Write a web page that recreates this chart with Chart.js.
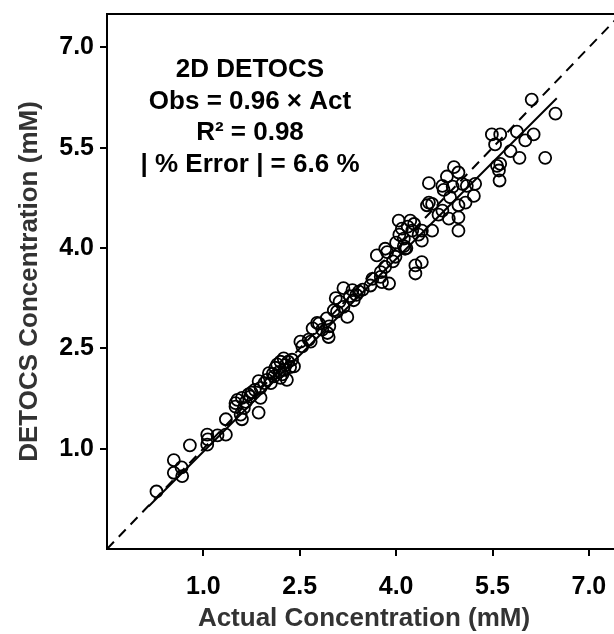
<!DOCTYPE html>
<html>
<head>
<meta charset="utf-8">
<script src="https://cdn.jsdelivr.net/npm/chart.js@4"></script>
<style>
    html, body { margin: 0; padding: 0; background: #fff; overflow: hidden; }
    canvas { display: block; }
</style>
</head>
<body>
<canvas id="myChart" width="630" height="634"></canvas>
<script>
// Actual vs DETOCS-measured concentration (mM)
const actualConc = [
    0.27, 0.54, 0.54, 0.66, 0.67, 0.79, 1.06, 1.07, 1.06, 1.22,
    1.35, 1.35, 1.50, 1.60, 1.63, 1.60, 1.70, 1.86, 1.53, 1.73,
    1.89, 1.50, 1.58, 1.86, 1.89, 1.99, 1.66, 1.75, 2.10, 2.20,
    2.30, 2.12, 2.25, 2.28, 2.41, 2.02, 2.23, 2.18, 2.26, 2.32,
    2.08, 2.35, 2.51, 2.67, 2.54, 2.64, 2.77, 2.93, 2.80, 2.95,
    2.96, 2.92, 3.03, 3.08, 3.06, 3.18, 3.24, 3.18, 3.32, 3.42,
    3.34, 3.38, 3.60, 3.63, 3.76, 3.78, 3.89, 3.83, 3.70, 3.83,
    3.86, 3.99, 3.76, 3.95, 4.04, 4.22, 4.09, 4.25, 4.40, 4.40,
    4.12, 4.14, 4.30, 4.40, 4.30, 4.48, 4.56, 4.51, 4.72, 4.74,
    4.79, 4.90, 4.97, 5.03, 5.10, 5.21, 4.84, 4.51, 4.56, 5.08,
    4.72, 4.97, 4.82, 4.97, 4.97, 4.66, 4.12, 4.35, 4.00, 5.54,
    5.49, 5.62, 5.57, 5.60, 5.61, 5.23, 5.88, 6.14, 6.01, 5.78,
    5.92, 6.32, 6.11, 6.48, 5.62, 2.15, 2.20, 2.38, 2.05, 1.80,
    1.95, 2.70, 2.85, 3.12, 3.28, 3.48, 4.05, 4.18, 4.28, 4.16,
    4.88
];
const detocsConc = [
    0.36, 0.83, 0.64, 0.72, 0.59, 1.05, 1.21, 1.14, 1.06, 1.20,
    1.21, 1.44, 1.68, 1.76, 1.61, 1.44, 1.81, 1.54, 1.73, 1.78,
    1.76, 1.63, 1.51, 2.01, 1.91, 2.03, 1.70, 1.84, 2.08, 2.06,
    2.03, 2.21, 2.35, 2.25, 2.23, 2.13, 2.11, 2.15, 2.18, 2.30,
    2.12, 2.22, 2.60, 2.60, 2.53, 2.63, 2.88, 2.73, 2.87, 2.67,
    2.83, 2.95, 3.07, 3.05, 3.25, 3.12, 2.97, 3.40, 3.37, 3.35,
    3.22, 3.30, 3.44, 3.54, 3.64, 3.49, 3.47, 3.72, 3.89, 3.99,
    3.94, 3.87, 3.57, 3.80, 4.41, 4.41, 4.29, 4.26, 4.26, 4.11,
    4.14, 3.99, 3.74, 3.79, 3.62, 4.64, 4.26, 4.97, 4.93, 4.87,
    5.07, 5.21, 5.13, 4.96, 4.93, 4.78, 4.76, 4.68, 4.66, 4.68,
    4.56, 4.64, 4.44, 4.46, 4.26, 4.50, 4.03, 4.20, 4.08, 5.55,
    5.70, 5.70, 5.23, 5.16, 5.01, 4.96, 5.74, 5.70, 5.61, 5.45,
    5.35, 5.35, 6.22, 6.01, 5.26, 2.26, 2.30, 2.33, 1.98, 1.88,
    1.98, 2.80, 2.78, 3.20, 3.28, 3.38, 4.20, 4.32, 4.36, 4.00,
    4.92
];

const tickValues = [1.0, 2.5, 4.0, 5.5, 7.0];
const axisMin = -0.5;
const axisMax = 7.5;

// y = x reference and fitted line (Obs = 0.96 x Act)
const identityX = [-0.5, 7.5];
const identityY = [-0.5, 7.5];
const fitX = [0.15, 6.5];
const fitY = [0.14, 6.24];

const statsLines = ['2D DETOCS', 'Obs = 0.96 × Act', 'R² = 0.98', '| % Error | = 6.6 %'];

const FONT = "'Liberation Sans', Arial, sans-serif";

document.addEventListener('DOMContentLoaded', function () {
    const points = actualConc.map((x, i) => ({ x: x, y: detocsConc[i] }));
    const identity = identityX.map((x, i) => ({ x: x, y: identityY[i] }));
    const fit = fitX.map((x, i) => ({ x: x, y: fitY[i] }));

    // frame + stats text
    const framePlugin = {
        id: 'frame',
        afterDraw(chart) {
            const c = chart.ctx;
            const a = chart.chartArea;
            c.save();
            c.strokeStyle = '#000';
            c.lineWidth = 2;
            c.strokeRect(a.left, a.top, a.right - a.left, a.bottom - a.top);

            c.fillStyle = '#000';
            c.font = 'bold 26px ' + FONT;
            c.textAlign = 'center';
            c.textBaseline = 'middle';
            const cx = 250;
            statsLines.forEach((t, i) => {
                c.fillText(t, cx, 70 + i * 31.5);
            });
            c.restore();
        }
    };

    var ctx = document.getElementById('myChart').getContext('2d');
    var myChart = new Chart(ctx, {
        type: 'scatter',
        data: {
            datasets: [{
                label: 'Samples',
                data: points,
                pointStyle: 'circle',
                pointRadius: 6,
                pointBorderWidth: 1.8,
                borderColor: '#000',
                backgroundColor: 'rgba(0,0,0,0)'
            }, {
                label: 'Identity',
                data: identity,
                showLine: true,
                borderColor: '#000',
                borderWidth: 2,
                borderDash: [10, 7],
                pointRadius: 0
            }, {
                label: 'Fit',
                data: fit,
                showLine: true,
                borderColor: '#000',
                borderWidth: 2,
                pointRadius: 0
            }]
        },
        options: {
            responsive: false,
            animation: false,
            layout: { padding: { top: 14, right: 9, left: 0, bottom: 0 } },
            plugins: {
                legend: { display: false },
                tooltip: { enabled: false }
            },
            scales: {
                x: {
                    type: 'linear',
                    min: axisMin,
                    max: axisMax,
                    afterBuildTicks: s => { s.ticks = tickValues.map(v => ({ value: v })); },
                    afterFit: s => { s.height = 85; s.paddingLeft = 0; s.paddingRight = 0; },
                    border: { display: false },
                    grid: { drawOnChartArea: false, drawTicks: true, tickLength: 7, color: '#000', lineWidth: 2 },
                    ticks: {
                        autoSkip: false,
                        maxRotation: 0,
                        padding: 16,
                        color: '#000',
                        font: { family: FONT, size: 25, weight: 'bold' },
                        callback: v => v.toFixed(1)
                    },
                    title: {
                        display: true,
                        text: 'Actual Concentration (mM)',
                        color: '#333',
                        padding: { top: 0, bottom: 0 },
                        font: { family: FONT, size: 26, weight: 'bold' }
                    }
                },
                y: {
                    type: 'linear',
                    min: axisMin,
                    max: axisMax,
                    afterBuildTicks: s => { s.ticks = tickValues.map(v => ({ value: v })); },
                    afterFit: s => { s.width = 107; s.paddingTop = 0; s.paddingBottom = 0; },
                    border: { display: false },
                    grid: { drawOnChartArea: false, drawTicks: true, tickLength: 7, color: '#000', lineWidth: 2 },
                    ticks: {
                        autoSkip: false,
                        padding: 6,
                        color: '#000',
                        font: { family: FONT, size: 25, weight: 'bold' },
                        callback: v => v.toFixed(1)
                    },
                    title: {
                        display: true,
                        text: 'DETOCS Concentration (mM)',
                        color: '#333',
                        padding: { top: 14, bottom: 0 },
                        font: { family: FONT, size: 26, weight: 'bold' }
                    }
                }
            }
        },
        plugins: [framePlugin]
    });
});
</script>
</body>
</html>
